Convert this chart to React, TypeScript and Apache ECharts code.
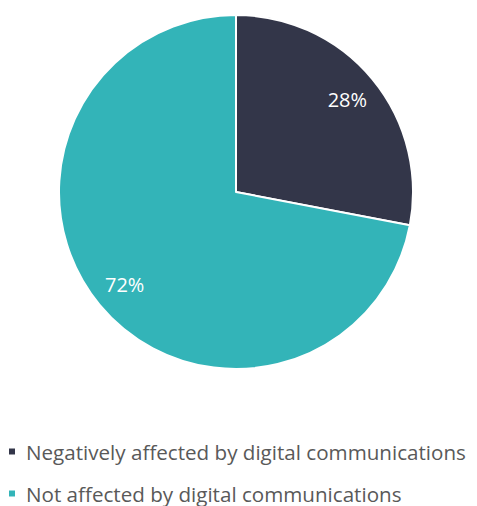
import React, { useEffect, useRef } from "react";
import * as echarts from "echarts";

const categories = [
  "Negatively affected by digital communications",
  "Not affected by digital communications",
];
const values = [28, 72];
const colors = ["#333649", "#33b4b8"];

export default function App() {
  const ref = useRef<HTMLDivElement>(null);
  useEffect(() => {
    const chart = echarts.init(ref.current!, null, { renderer: "svg" });
    const data = categories.map((name, i) => ({
      name,
      value: values[i],
      itemStyle: { color: colors[i] },
    }));
    chart.setOption({
      animation: false,
      legend: {
        orient: "vertical",
        left: -1,
        top: 433,
        padding: 0,
        itemGap: 21,
        icon: "rect",
        itemWidth: 8,
        itemHeight: 8,
        textStyle: {
          fontFamily: "Open Sans",
          fontSize: 20.6,
          lineHeight: 21,
          color: "#595959",
          padding: [0, 0, 0, 5],
        },
        data: categories,
      },
      series: [
        {
          type: "pie",
          center: [228, 184],
          radius: [0, 177],
          startAngle: 90,
          clockwise: true,
          silent: true,
          itemStyle: { borderColor: "#ffffff", borderWidth: 2 },
          label: { show: false },
          labelLine: { show: false },
          data,
        },
        {
          type: "pie",
          center: [228, 184],
          radius: [106, 177],
          startAngle: 90,
          clockwise: true,
          silent: true,
          legendHoverLink: false,
          itemStyle: { color: "transparent", borderWidth: 0 },
          label: {
            show: true,
            position: "inside",
            formatter: "{c}%",
            color: "#ffffff",
            fontFamily: "Open Sans",
            fontSize: 20,
          },
          labelLine: { show: false },
          data: categories.map((name, i) => ({
            name: name + " ",
            value: values[i],
            itemStyle: { color: "transparent" },
          })),
        },
      ],
    });
    return () => chart.dispose();
  }, []);
  return <div ref={ref} style={{ width: 469, height: 498 }} />;
}
